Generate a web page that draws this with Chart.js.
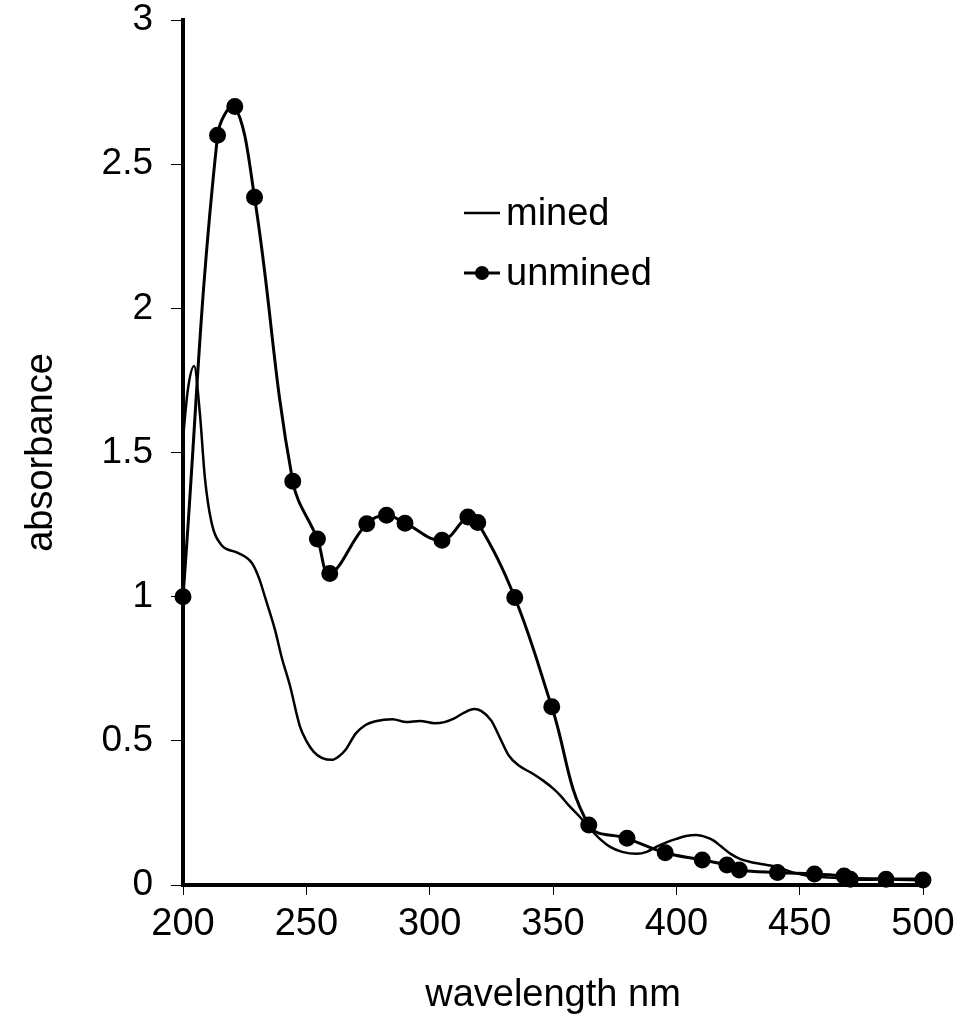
<!DOCTYPE html>
<html>
<head>
<meta charset="utf-8">
<script src="https://cdn.jsdelivr.net/npm/chart.js@4.4.1/dist/chart.umd.min.js"></script>
<style>
  html, body { margin: 0; padding: 0; background: #fff; }
  #grafico { display: block; }
</style>
</head>
<body>
<canvas id="grafico" width="968" height="1018"></canvas>
<script>
// datos
const minedWl = [200, 202, 204.5, 206.8, 208.9, 211.5, 215.5, 222, 228, 231, 233.2, 237.3, 240, 243.4, 247.4, 250, 253, 256.5, 260.3, 263, 266, 270, 274, 278, 285, 290.5, 296, 302, 306, 310, 314, 318, 321, 325, 328.5, 332, 336, 341, 346, 350, 353, 356.5, 361, 365, 369, 373, 378, 384, 388, 392, 396, 400, 404, 408, 412, 415, 418, 422, 426, 430, 435, 440, 444, 448, 454, 460, 470, 485, 500];
const minedAbs = [1.55, 1.72, 1.80, 1.64, 1.41, 1.26, 1.18, 1.153, 1.116, 1.06, 1.0, 0.885, 0.79, 0.69, 0.55, 0.50, 0.462, 0.44, 0.434, 0.445, 0.47, 0.525, 0.555, 0.568, 0.575, 0.565, 0.569, 0.561, 0.565, 0.578, 0.598, 0.61, 0.603, 0.57, 0.51, 0.45, 0.415, 0.39, 0.362, 0.335, 0.31, 0.275, 0.235, 0.195, 0.16, 0.133, 0.115, 0.108, 0.115, 0.133, 0.148, 0.16, 0.17, 0.173, 0.166, 0.155, 0.135, 0.108, 0.09, 0.08, 0.072, 0.064, 0.053, 0.042, 0.031, 0.027, 0.024, 0.022, 0.021];

const unminedWl = [200, 214, 221, 229, 244.5, 254.5, 259.5, 274.5, 282.5, 290, 305, 315.5, 319.5, 334.5, 349.5, 364.5, 380, 395.5, 410.5, 420.5, 425.5, 441, 456, 468, 470.5, 485, 500];
const unminedAbs = [1.00, 2.60, 2.70, 2.385, 1.40, 1.20, 1.08, 1.253, 1.282, 1.255, 1.196, 1.276, 1.257, 0.997, 0.618, 0.208, 0.162, 0.112, 0.087, 0.069, 0.052, 0.043, 0.038, 0.031, 0.020, 0.020, 0.017];

const fuente = '"Liberation Sans", Arial, sans-serif';

function puntos(xs, ys) {
  return xs.map((x, i) => ({ x: x, y: ys[i] }));
}

// leyenda dentro del area del grafico
const leyenda = {
  id: 'leyenda',
  afterDraw(chart) {
    const ctx = chart.ctx;
    const x0 = 464, x1 = 500, xt = 506;
    const filas = [213, 273];
    ctx.save();
    ctx.fillStyle = '#000';
    ctx.strokeStyle = '#000';
    ctx.font = '38px ' + fuente;
    ctx.textBaseline = 'middle';
    chart.data.datasets.forEach((ds, i) => {
      const y = filas[i];
      ctx.lineWidth = ds.borderWidth;
      ctx.beginPath();
      ctx.moveTo(x0, y);
      ctx.lineTo(x1, y);
      ctx.stroke();
      if (ds.pointRadius > 0) {
        ctx.beginPath();
        ctx.arc((x0 + x1) / 2, y, ds.pointRadius, 0, Math.PI * 2);
        ctx.fill();
      }
      ctx.fillText(ds.label, xt, y + 2);
    });
    ctx.restore();
  }
};

const ctx = document.getElementById('grafico');

new Chart(ctx, {
  type: 'line',
  data: {
    datasets: [
      {
        label: 'mined',
        data: puntos(minedWl, minedAbs),
        borderColor: '#000',
        borderWidth: 2.5,
        pointRadius: 0,
        cubicInterpolationMode: 'monotone',
        clip: 10
      },
      {
        label: 'unmined',
        data: puntos(unminedWl, unminedAbs),
        borderColor: '#000',
        backgroundColor: '#000',
        borderWidth: 3,
        pointRadius: 7,
        pointBackgroundColor: '#000',
        pointBorderColor: '#000',
        tension: 0.4,
        clip: 10
      }
    ]
  },
  options: {
    responsive: false,
    animation: false,
    layout: { padding: { top: 20, right: 45, bottom: 0, left: 0 } },
    plugins: {
      legend: { display: false },
      tooltip: { enabled: false }
    },
    scales: {
      x: {
        type: 'linear',
        min: 200,
        max: 500,
        afterFit(scale) { scale.height = 133; },
        ticks: {
          stepSize: 50,
          color: '#000',
          padding: 7,
          font: { family: fuente, size: 38 },
          maxRotation: 0
        },
        grid: { drawOnChartArea: false, color: '#000', lineWidth: 1, tickLength: 10 },
        border: { color: '#000', width: 4 },
        title: {
          display: true,
          text: 'wavelength nm',
          color: '#000',
          font: { family: fuente, size: 38 },
          padding: { top: 0, bottom: 0 }
        }
      },
      y: {
        min: 0,
        max: 3,
        afterFit(scale) {
          scale.width = 183;
          scale.paddingTop = 0;
          scale.paddingBottom = 0;
        },
        ticks: {
          stepSize: 0.5,
          color: '#000',
          padding: 18,
          font: { family: fuente, size: 37 },
          callback: (v) => String(v)
        },
        grid: { drawOnChartArea: false, color: '#000', lineWidth: 1, tickLength: 12 },
        border: { color: '#000', width: 4 },
        title: {
          display: true,
          text: 'absorbance',
          color: '#000',
          font: { family: fuente, size: 38 },
          padding: { top: 19, bottom: 0 }
        }
      }
    }
  },
  plugins: [leyenda]
});
</script>
</body>
</html>
